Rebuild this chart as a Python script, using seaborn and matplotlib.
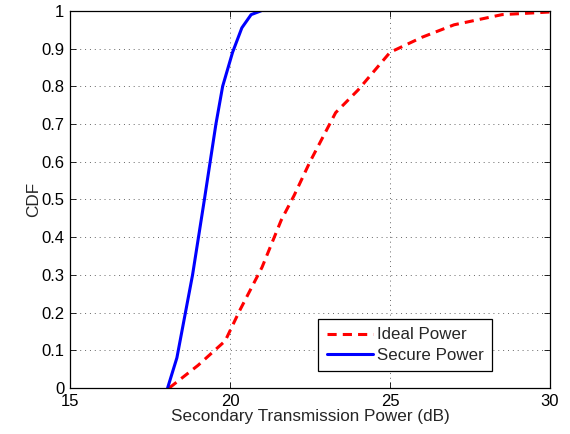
import matplotlib
matplotlib.use("Agg")
import matplotlib.pyplot as plt
import seaborn as sns
import pandas as pd

ideal_x = [18.1, 19.0, 19.85, 20.3, 21.0, 21.6, 22.0, 22.5, 23.3, 24.0, 25.0, 26.0, 27.0, 28.5, 30.0]
ideal_y = [0.0, 0.06, 0.125, 0.205, 0.32, 0.445, 0.51, 0.60, 0.73, 0.79, 0.89, 0.93, 0.963, 0.99, 0.997]
secure_x = [18.05, 18.34, 18.83, 19.2, 19.56, 19.77, 20.08, 20.37, 20.66, 20.97]
secure_y = [0.0, 0.08, 0.30, 0.50, 0.70, 0.80, 0.89, 0.955, 0.99, 1.0]

df = pd.concat([
    pd.DataFrame({"x": ideal_x, "y": ideal_y, "series": "Ideal Power"}),
    pd.DataFrame({"x": secure_x, "y": secure_y, "series": "Secure Power"}),
])

sns.set_style("ticks")
plt.rcParams['font.family'] = ['Liberation Sans', 'DejaVu Sans']

fig = plt.figure(figsize=(5.7, 4.34), dpi=100)
ax = fig.add_axes([0.1228, 0.106, 0.8422, 0.869])

sns.lineplot(data=df, x="x", y="y", hue="series", style="series",
             palette={"Ideal Power": "#ff0000", "Secure Power": "#0000ff"},
             dashes={"Ideal Power": (3, 2), "Secure Power": ""},
             linewidth=2.2, ax=ax, sort=False, estimator=None)

ax.set_xlim(15, 30)
ax.set_ylim(0, 1)
ax.set_xticks([15, 20, 25, 30])
ax.set_yticks([i / 10 for i in range(11)])
ax.set_yticklabels(["0", "0.1", "0.2", "0.3", "0.4", "0.5", "0.6", "0.7", "0.8", "0.9", "1"])
ax.grid(True, linestyle=(0, (1, 4)), color="#666666", linewidth=0.7)
ax.tick_params(direction="in", top=True, right=True, labelsize=12, length=4, width=0.6,
               colors="black", pad=4)
for s in ax.spines.values():
    s.set_linewidth(0.9)
    s.set_color("black")
ax.set_xlabel("Secondary Transmission Power (dB)", fontsize=12.3, labelpad=0)
ax.set_ylabel("CDF", fontsize=12.3, labelpad=0)

leg = ax.legend(loc="lower right", bbox_to_anchor=(0.879, 0.045), fontsize=12.2,
                frameon=True, fancybox=False, edgecolor="black", framealpha=1,
                handlelength=2.7, handletextpad=0.25, borderpad=0.5, labelspacing=0.3,
                borderaxespad=0)
leg.get_frame().set_linewidth(0.9)

fig.savefig("out.png", dpi=100)
